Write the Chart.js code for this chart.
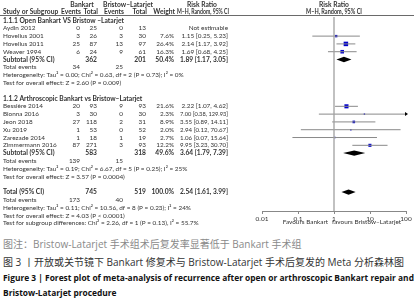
<!DOCTYPE html>
<html>
<head>
<meta charset="utf-8">
<script src="https://cdn.jsdelivr.net/npm/chart.js@4.4.1/dist/chart.umd.min.js"></script>
<style>
  body { margin: 0; background: #fff; width: 414px; height: 300px; overflow: hidden; font-family: "Open Sans", "Noto Sans CJK SC", sans-serif; }
  #wrap { position: absolute; left: 0; top: 0; width: 414px; height: 232px; }
  .cap { position: absolute; left: 3px; white-space: nowrap; }
  #c1 { top: 236px; font-size: 10px; color: #8a8a8a; }
  #c2 { top: 254px; font-size: 10px; color: #333; }
  #c3 { top: 270px; font-size: 8.4px; font-weight: bold; color: #111; line-height: 15px; }
</style>
</head>
<body>
<div id="wrap"><canvas id="forest"></canvas></div>
<div class="cap" id="c1">图注：Bristow-Latarjet 手术组术后复发率显著低于 Bankart 手术组</div>
<div class="cap" id="c2">图 3 丨开放或关节镜下 Bankart 修复术与 Bristow-Latarjet 手术后复发的 Meta 分析森林图</div>
<div class="cap" id="c3">Figure 3 | Forest plot of meta-analysis of recurrence after open or arthroscopic Bankart repair and<br>Bristow-Latarjet procedure</div>
<script>
// studies
const studyNames = ['Aydin 2012', 'Hovelius 2001', 'Hovelius 2011', 'Weaver 1994',
  'Bessière 2014', 'Bionna 2016', 'Jeon 2018', 'Xu 2019', 'Zarezade 2014', 'Zimmermann 2016'];
const studyRows = [1, 2, 3, 4, 11, 12, 13, 14, 15, 16];
const bankartEvents = [0, 3, 25, 6, 20, 3, 27, 1, 1, 87];
const bankartTotal = [25, 26, 87, 24, 93, 30, 118, 53, 18, 271];
const bristowEvents = [0, 3, 13, 9, 9, 0, 2, 0, 1, 3];
const bristowTotal = [13, 30, 97, 61, 93, 30, 31, 52, 19, 93];
const weights = [null, 7.6, 26.4, 16.3, 21.6, 2.3, 8.9, 2.0, 2.7, 12.2];
const riskRatio = [null, 1.15, 2.14, 1.69, 2.22, 7.00, 3.55, 2.94, 1.06, 9.95];
const ciLow = [null, 0.25, 1.17, 0.68, 1.07, 0.38, 0.89, 0.12, 0.07, 3.23];
const ciHigh = [null, 5.23, 3.92, 4.25, 4.62, 129.93, 14.11, 70.67, 15.64, 30.70];

// subtotals and total
const pooledLabels = ['Subtotal (95% CI)', 'Subtotal (95% CI)', 'Total (95% CI)'];
const pooledRows = [5, 17, 22];
const pooledBankartTotal = [362, 583, 745];
const pooledBristowTotal = [201, 318, 519];
const pooledWeight = [50.4, 49.6, 100.0];
const pooledRR = [1.89, 3.64, 2.54];
const pooledLow = [1.17, 1.79, 1.61];
const pooledHigh = [3.05, 7.39, 3.99];

const eventRows = [6, 18, 23];
const eventsBankart = [34, 139, 173];
const eventsBristow = [25, 15, 40];

const sectionRows = [0, 10];
const sectionTitles = ['1.1.1 Open Bankart VS Bristow \u2013Latarjet', '1.1.2 Arthroscopic Bankart vs Bristow\u2013Latarjet'];

const noteRows = [7, 8, 19, 20, 24, 25, 26];
const noteTexts = [
  'Heterogeneity: Tau\u00b2 = 0.00; Chi\u00b2 = 0.63, df = 2 (P = 0.73); I\u00b2 = 0%',
  'Test for overall effect: Z = 2.60 (P = 0.009)',
  'Heterogeneity: Tau\u00b2 = 0.19; Chi\u00b2 = 6.67, df = 5 (P = 0.25); I\u00b2 = 25%',
  'Test for overall effect: Z = 3.57 (P = 0.0004)',
  'Heterogeneity: Tau\u00b2 = 0.11; Chi\u00b2 = 10.56, df = 8 (P = 0.23); I\u00b2 = 24%',
  'Test for overall effect: Z = 4.03 (P < 0.0001)',
  'Test for subgroup differences: Chi\u00b2 = 2.26, df = 1 (P = 0.13), I\u00b2 = 55.7%'
];

const xTicks = [0.01, 0.1, 1, 10, 100];

// layout
const Y_MIN = -0.45, Y_MAX = 24.42;
const FONT = 'Lato';
const FS = 6.4;
const FSB = 6.7;
const col = { study: 3, bkE: 80, bkT: 97, brE: 123, brT: 146, wt: 174, ci: 228 };

const fmt = v => v.toFixed(2);

const forestText = {
  id: 'forestText',
  afterDatasetsDraw(chart) {
    const { ctx, scales: { x, y }, chartArea } = chart;
    ctx.save();
    // diamonds
    ctx.fillStyle = '#000';
    pooledRR.forEach((rr, i) => {
      const py = y.getPixelForValue(pooledRows[i]);
      ctx.beginPath();
      ctx.moveTo(x.getPixelForValue(pooledLow[i]), py);
      ctx.lineTo(x.getPixelForValue(rr), py - 2.7);
      ctx.lineTo(x.getPixelForValue(pooledHigh[i]), py);
      ctx.lineTo(x.getPixelForValue(rr), py + 2.7);
      ctx.closePath();
      ctx.fill();
    });
    // arrow for CI beyond axis
    ciHigh.forEach((h, i) => {
      if (h == null || h <= x.max) return;
      const py = y.getPixelForValue(studyRows[i]);
      const px = chartArea.right;
      ctx.beginPath();
      ctx.moveTo(px + 2, py);
      ctx.lineTo(px - 1, py - 2);
      ctx.lineTo(px - 1, py + 2);
      ctx.closePath();
      ctx.fill();
    });
    ctx.restore();
  },
  afterDraw(chart) {
    const { ctx, scales: { x, y } } = chart;
    ctx.save();
    ctx.textBaseline = 'middle';
    const t = (s, px, py, align, bold, maxW) => {
      ctx.font = bold ? 'bold ' + FSB + 'px ' + FONT : FS + 'px ' + FONT;
      ctx.textAlign = align || 'left';
      ctx.fillStyle = '#333';
      if (maxW) ctx.fillText(s, px, py, maxW);
      else ctx.fillText(s, px, py);
    };
    const x1 = x.getPixelForValue(1);

    // header
    t('Bankart', 82, 5, 'center', true);
    t('Bristow\u2013Latarjet', 128, 5, 'center', true);
    t('Risk Ratio', 202, 5, 'center', true);
    t('Risk Ratio', x1, 5, 'center', true);
    t('Study or Subgroup', col.study, 12, 'left', true);
    t('Events', col.bkE + 1, 12, 'right', true);
    t('Total', col.bkT + 1, 12, 'right', true);
    t('Events', col.brE + 1, 12, 'right', true);
    t('Total', col.brT + 1, 12, 'right', true);
    t('Weight', col.wt + 1, 12, 'right', true);
    t('M\u2013H, Random, 95% CI', 203, 12, 'center', true, 52);
    t('M\u2013H, Random, 95% CI', x1, 12, 'center', true, 56);
    ctx.strokeStyle = '#444';
    ctx.lineWidth = 0.8;
    ctx.beginPath();
    ctx.moveTo(0, 15.5);
    ctx.lineTo(414, 15.5);
    ctx.stroke();

    sectionRows.forEach((r, i) => t(sectionTitles[i], col.study, y.getPixelForValue(r), 'left', true));

    studyNames.forEach((name, i) => {
      const py = y.getPixelForValue(studyRows[i]);
      t(name, col.study, py);
      t(String(bankartEvents[i]), col.bkE, py, 'right');
      t(String(bankartTotal[i]), col.bkT, py, 'right');
      t(String(bristowEvents[i]), col.brE, py, 'right');
      t(String(bristowTotal[i]), col.brT, py, 'right');
      if (riskRatio[i] == null) {
        t('Not estimable', col.ci, py, 'right');
      } else {
        t(weights[i].toFixed(1) + '%', col.wt, py, 'right');
        t(fmt(riskRatio[i]) + ' [' + fmt(ciLow[i]) + ', ' + fmt(ciHigh[i]) + ']', col.ci, py, 'right', false, 48);
      }
    });

    pooledLabels.forEach((lab, i) => {
      const py = y.getPixelForValue(pooledRows[i]);
      t(lab, col.study, py, 'left', true);
      t(String(pooledBankartTotal[i]), col.bkT, py, 'right', true);
      t(String(pooledBristowTotal[i]), col.brT, py, 'right', true);
      t(pooledWeight[i].toFixed(1) + '%', col.wt, py, 'right', true);
      t(fmt(pooledRR[i]) + ' [' + fmt(pooledLow[i]) + ', ' + fmt(pooledHigh[i]) + ']', col.ci, py, 'right', true, 48);
    });

    eventRows.forEach((r, i) => {
      const py = y.getPixelForValue(r);
      t('Total events', col.study, py);
      t(String(eventsBankart[i]), col.bkE, py, 'right');
      t(String(eventsBristow[i]), col.brE, py, 'right');
    });

    noteRows.forEach((r, i) => t(noteTexts[i], col.study, y.getPixelForValue(r)));

    // favours labels
    const fy = y.getPixelForValue(26) - 1;
    t('Favours Bankart', x1 - 6, fy, 'right');
    t('favours Bristow\u2013Latarjet', x1 - 2, fy, 'left');
    ctx.restore();
  }
};

const ciSets = studyNames.map((n, i) => ciLow[i] == null ? null : {
  type: 'scatter',
  showLine: true,
  data: [{ x: ciLow[i], y: studyRows[i] }, { x: ciHigh[i], y: studyRows[i] }],
  borderColor: '#8a8a8a',
  borderWidth: 1,
  pointRadius: 0
}).filter(Boolean);

const squares = {
  type: 'scatter',
  data: riskRatio.map((rr, i) => rr == null ? null : { x: rr, y: studyRows[i], w: weights[i] }).filter(Boolean),
  pointStyle: 'rect',
  pointRadius: c => Math.max(1, Math.sqrt(c.raw.w) * 0.62),
  backgroundColor: '#0000cc',
  borderWidth: 0
};

const refLine = {
  type: 'scatter',
  showLine: true,
  data: [{ x: 1, y: Y_MIN }, { x: 1, y: Y_MAX }],
  borderColor: '#a0a0a0',
  borderWidth: 1.3,
  pointRadius: 0
};

new Chart(document.getElementById('forest'), {
  type: 'scatter',
  data: { datasets: [refLine, ...ciSets, squares] },
  options: {
    responsive: true,
    maintainAspectRatio: false,
    animation: false,
    layout: { padding: { left: 262, right: 8, top: 17, bottom: 0 } },
    plugins: { legend: { display: false }, tooltip: { enabled: false } },
    scales: {
      x: {
        type: 'logarithmic',
        min: 0.01,
        max: 100,
        afterBuildTicks: s => { s.ticks = xTicks.map(v => ({ value: v })); },
        afterFit: s => { s.height = 21; },
        ticks: {
          callback: v => String(v),
          font: { family: FONT, size: 6.5 },
          color: '#333',
          padding: 1,
          autoSkip: false,
          maxRotation: 0
        },
        grid: { drawOnChartArea: false, drawTicks: true, tickLength: 3, color: '#888' },
        border: { color: '#888', width: 1 }
      },
      y: {
        type: 'linear',
        display: false,
        reverse: true,
        min: Y_MIN,
        max: Y_MAX
      }
    }
  },
  plugins: [forestText]
});
</script>
</body>
</html>
